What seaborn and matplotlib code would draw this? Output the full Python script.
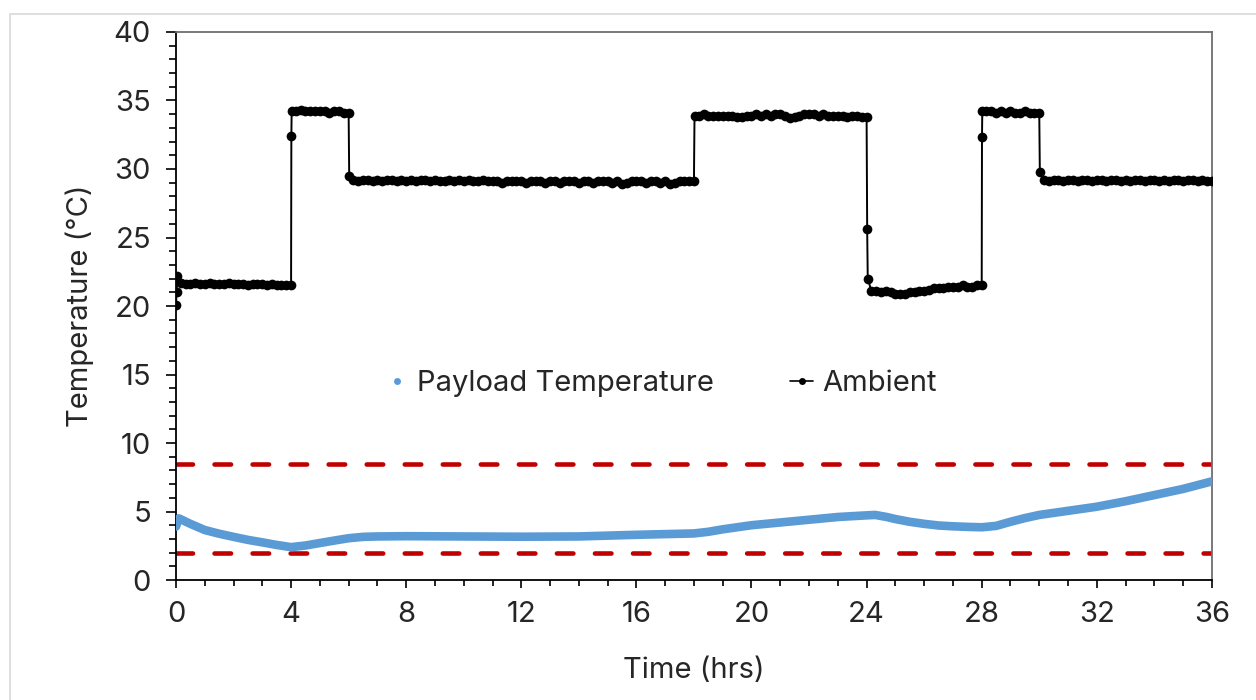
import numpy as np
import pandas as pd
import matplotlib
matplotlib.use("Agg")
import matplotlib.pyplot as plt
import seaborn as sns
from matplotlib.ticker import MultipleLocator
from matplotlib.lines import Line2D
from matplotlib.patches import Rectangle

# Payload temperature (smooth curve)
payload_hours = [0, 0.1, 0.5, 1, 1.5, 2, 2.5, 3, 3.5, 4, 4.5, 5, 5.5, 6, 6.5, 7, 8, 10,
                 12, 14, 16, 17, 18, 18.5, 19, 20, 21, 22, 23, 24, 24.3, 24.7, 25,
                 25.5, 26, 26.5, 27, 27.5, 28, 28.5, 29, 29.5, 30, 31, 32, 33, 34,
                 35, 36]
payload_temp = [3.9, 4.5, 4.1, 3.65, 3.38, 3.15, 2.93, 2.75, 2.56, 2.4, 2.52, 2.7,
                2.88, 3.05, 3.15, 3.18, 3.2, 3.18, 3.16, 3.18, 3.3, 3.35, 3.4, 3.52,
                3.7, 4.0, 4.2, 4.4, 4.6, 4.72, 4.75, 4.6, 4.45, 4.25, 4.1, 3.98,
                3.92, 3.88, 3.85, 3.95, 4.25, 4.52, 4.75, 5.05, 5.35, 5.75, 6.2,
                6.65, 7.2]

# Ambient logged every 10 min (6 readings per hour), one row per hour
ambient_temp = [
    20.1, 21.7, 21.6, 21.6, 21.7, 21.6,
    21.6, 21.7, 21.6, 21.6, 21.6, 21.7,
    21.6, 21.6, 21.6, 21.5, 21.6, 21.6,
    21.6, 21.5, 21.6, 21.5, 21.5, 21.5,
    21.5, 34.2, 34.3, 34.2, 34.2, 34.2,
    34.2, 34.2, 34.1, 34.2, 34.2, 34.1,
    34.1, 29.2, 29.1, 29.2, 29.2, 29.1,
    29.2, 29.1, 29.2, 29.2, 29.1, 29.2,
    29.1, 29.2, 29.1, 29.2, 29.2, 29.1,
    29.2, 29.1, 29.1, 29.2, 29.1, 29.2,
    29.1, 29.2, 29.1, 29.1, 29.2, 29.1,
    29.1, 29.1, 29.0, 29.1, 29.1, 29.1,
    29.1, 29.0, 29.1, 29.1, 29.1, 29.0,
    29.1, 29.1, 29.0, 29.1, 29.1, 29.1,
    29.0, 29.1, 29.1, 29.0, 29.1, 29.1,
    29.1, 29.0, 29.1, 28.9, 29.0, 29.1,
    29.1, 29.1, 29.0, 29.1, 29.1, 29.0,
    29.1, 28.9, 29.0, 29.1, 29.1, 29.1,
    29.1, 33.9, 34.0, 33.9, 33.9, 33.9,
    33.9, 33.9, 33.9, 33.8, 33.8, 33.9,
    33.9, 34.0, 33.9, 34.0, 33.9, 34.0,
    34.0, 33.9, 33.7, 33.8, 33.9, 34.0,
    34.0, 34.0, 33.9, 34.0, 33.9, 33.9,
    33.9, 33.9, 33.8, 33.9, 33.9, 33.8,
    33.8, 21.1, 21.1, 21.0, 21.1, 21.0,
    20.9, 20.9, 20.9, 21.0, 21.0, 21.1,
    21.1, 21.2, 21.3, 21.3, 21.3, 21.4,
    21.4, 21.4, 21.5, 21.4, 21.4, 21.5,
    21.5, 34.2, 34.2, 34.1, 34.2, 34.1,
    34.2, 34.1, 34.1, 34.2, 34.1, 34.1,
    34.1, 29.2, 29.1, 29.2, 29.2, 29.1,
    29.2, 29.2, 29.1, 29.2, 29.2, 29.1,
    29.2, 29.2, 29.1, 29.2, 29.2, 29.1,
    29.2, 29.1, 29.2, 29.2, 29.1, 29.2,
    29.2, 29.1, 29.2, 29.1, 29.2, 29.2,
    29.1, 29.2, 29.2, 29.1, 29.2, 29.1,
    29.1,
]
ambient_hours = np.arange(len(ambient_temp)) / 6.0

# extra readings taken during the set-point changes
step_hours = [0.02, 0.05, 4.01, 4.02, 6.02, 18.02, 24.02, 24.04, 28.01, 28.02, 30.02]
step_temp = [21.0, 22.2, 32.4, 34.2, 29.5, 33.9, 25.6, 22.0, 32.3, 34.2, 29.8]

# acceptable payload range
limit_temps = [2.0, 8.5]

ambient = pd.DataFrame({
    "hours": np.concatenate([ambient_hours, step_hours]),
    "temp": np.concatenate([ambient_temp, step_temp]),
}).sort_values("hours")
payload = pd.DataFrame({"hours": payload_hours, "temp": payload_temp})

sns.set_style("ticks")
plt.rcParams["font.family"] = ["Inter", "DejaVu Sans"]
text_color = "#262626"
blue = "#5b9bd5"
red = "#c00000"
fs = 21

fig = plt.figure(figsize=(12.56, 7), dpi=100)
ax = fig.add_axes([0.1401, 0.1714, 0.8248, 0.7829])

# light frame around the chart area
fig.patches.append(Rectangle((10 / 1256, -0.1), 1.2, 0.98 + 0.1, transform=fig.transFigure,
                             fill=False, edgecolor="#d9d9d9", linewidth=1.2))

for v in limit_temps:
    ax.axhline(v, color=red, linewidth=3.3, dashes=(3.6, 4.7), dash_capstyle="round", zorder=2)

sns.lineplot(data=payload, x="hours", y="temp", ax=ax, color=blue, linewidth=6.2,
             solid_capstyle="round", solid_joinstyle="round", estimator=None, sort=False, zorder=3)
sns.lineplot(data=ambient, x="hours", y="temp", ax=ax, color="black", linewidth=1.4,
             marker="o", markersize=7, markeredgewidth=0, estimator=None, sort=False, zorder=4)

ax.set_xlim(0, 36)
ax.set_ylim(0, 40)
ax.set_xticks(range(0, 37, 4))
ax.set_yticks(range(0, 41, 5))
ax.xaxis.set_minor_locator(MultipleLocator(1))
ax.yaxis.set_minor_locator(MultipleLocator(1))
ax.tick_params(axis="y", which="major", direction="out", length=7, width=1.2, pad=11,
               labelsize=fs, colors="black", labelcolor=text_color)
ax.tick_params(axis="y", which="minor", direction="out", length=5, width=1.2, colors="black")
ax.tick_params(axis="x", which="major", direction="out", length=6, width=1.2, pad=9,
               labelsize=fs, colors="black", labelcolor=text_color)
ax.tick_params(axis="x", which="minor", direction="out", length=4, width=1.2, colors="black")

for side in ["left", "bottom"]:
    ax.spines[side].set_color("black")
    ax.spines[side].set_linewidth(1.3)
for side in ["top", "right"]:
    ax.spines[side].set_visible(True)
    ax.spines[side].set_color("#6e6e6e")
    ax.spines[side].set_linewidth(1.3)

ax.set_xlabel("Time (hrs)", fontsize=fs, color=text_color, labelpad=21)
ax.set_ylabel("Temperature (°C)", fontsize=fs, color=text_color, labelpad=14)

handles = [
    Line2D([], [], color=blue, marker="o", linestyle="none", markersize=5, markeredgewidth=0),
    Line2D([], [], color="black", linewidth=1.2, marker="o", markersize=5, markeredgewidth=0),
]
ax.legend(handles, ["Payload Temperature", "Ambient"], loc="center",
          bbox_to_anchor=(0.468, 0.359), ncol=2, frameon=False, fontsize=fs,
          handlelength=0.8, handletextpad=0.3, columnspacing=2.6, labelcolor=text_color)

fig.savefig("out.png", dpi=100)
